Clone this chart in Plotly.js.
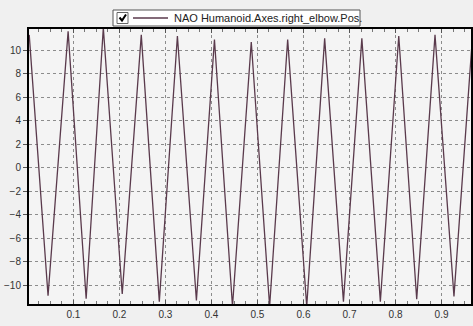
<!DOCTYPE html>
<html>
<head>
<meta charset="utf-8">
<script src="https://cdn.plot.ly/plotly-3.0.1.min.js"></script>
<style>html,body{margin:0;padding:0;background:#f0f0f0;}#chart{width:473px;height:326px;}</style>
</head>
<body>
<div id="chart"></div>
<script>
// Vertices of the triangle-shaped signal (time, position)
const timeValues = [0.004, 0.0449, 0.0885, 0.1277, 0.165, 0.2061, 0.2475, 0.2867, 0.326, 0.3673, 0.4065, 0.4457, 0.4865, 0.5264, 0.5656, 0.607, 0.646, 0.6868, 0.7268, 0.767, 0.807, 0.846, 0.8858, 0.927, 0.968];
const positionValues = [11.3, -10.9, 11.6, -11.15, 11.9, -10.75, 11.3, -11.4, 11.2, -11.3, 10.9, -11.8, 10.7, -11.8, 10.9, -11.8, 11.0, -11.4, 11.0, -11.4, 11.2, -11.2, 11.3, -10.95, 11.6];
const seriesName = "NAO Humanoid.Axes.right_elbow.Pos.";
const xTickValues = [0.1, 0.2, 0.3, 0.4, 0.5, 0.6, 0.7, 0.8, 0.9];
const yTickValues = [-10, -8, -6, -4, -2, 0, 2, 4, 6, 8, 10];

const trace = {
  x: timeValues, y: positionValues, type: 'scatter', mode: 'lines',
  name: seriesName, line: {color: '#5a3a4c', width: 1.3}, showlegend: false
};

const layout = {
  width: 473, height: 326,
  margin: {l: 29, r: 2, t: 29, b: 22},
  paper_bgcolor: '#f0f0f0', plot_bgcolor: '#f4f4f4',
  font: {family: 'Arial, Liberation Sans, sans-serif', size: 10, color: '#333'},
  xaxis: {
    range: [0.0035, 0.964], tickvals: xTickValues, ticktext: xTickValues.map(v => v.toFixed(1)),
    showgrid: true, gridcolor: '#8c8c8c', griddash: '3px,3px', gridwidth: 1,
    zeroline: false, showline: true, linecolor: '#000', linewidth: 2, mirror: 'allticks',
    ticks: 'inside', ticklen: 4, tickcolor: '#555',
    minor: {dtick: 0.025, tick0: 0, ticks: 'inside', ticklen: 3, tickcolor: '#777', showgrid: false},
    tickfont: {size: 10, color: '#333'}
  },
  yaxis: {
    range: [-11.6, 11.8], tickvals: yTickValues,
    showgrid: true, gridcolor: '#8c8c8c', griddash: '3px,3px', gridwidth: 1,
    zeroline: false, showline: true, linecolor: '#000', linewidth: 2, mirror: true,
    ticks: 'outside', ticklen: 4, tickcolor: '#555',
    tickfont: {size: 10, color: '#333'}
  },
  shapes: [
    {type: 'rect', xref: 'paper', yref: 'paper', x0: (113-29)/442, x1: (360-29)/442, y0: (304-26)/275, y1: (304-10)/275,
     fillcolor: '#ffffff', line: {color: '#555', width: 1}, layer: 'above'},
    {type: 'rect', xref: 'paper', yref: 'paper', x0: (117-29)/442, x1: (128-29)/442, y0: (304-23.5)/275, y1: (304-12.5)/275,
     fillcolor: '#ffffff', line: {color: '#666', width: 1}, layer: 'above'},
    {type: 'path', xref: 'paper', yref: 'paper', layer: 'above', line: {color: '#000', width: 2},
     path: 'M ' + (119.5-29)/442 + ' ' + (304-17.5)/275 + ' L ' + (122-29)/442 + ' ' + (304-20.5)/275 + ' L ' + (126-29)/442 + ' ' + (304-14.5)/275},
    {type: 'line', xref: 'paper', yref: 'paper', layer: 'above', line: {color: '#5a3a4c', width: 1.3},
     x0: (133-29)/442, x1: (168-29)/442, y0: (304-18)/275, y1: (304-18)/275}
  ],
  annotations: [
    {xref: 'paper', yref: 'paper', x: (172-29)/442, y: (304-18)/275, xanchor: 'left', yanchor: 'middle',
     text: seriesName, showarrow: false, font: {size: 11, color: '#222', family: 'Arial, Liberation Sans, sans-serif'}}
  ]
};

Plotly.newPlot('chart', [trace], layout, {displayModeBar: false, staticPlot: true});
</script>
</body>
</html>
